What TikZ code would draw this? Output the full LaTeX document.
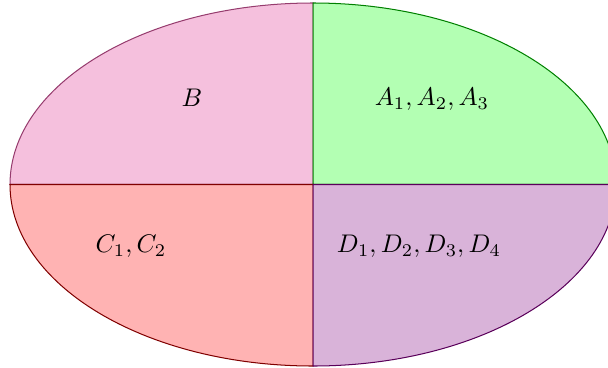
\documentclass[tikz,border=0pt]{standalone}
\usepackage{tikz}
\definecolor{bfill}{RGB}{245,192,221}
\definecolor{bdraw}{RGB}{150,60,110}
\definecolor{afill}{RGB}{179,255,179}
\definecolor{adraw}{RGB}{0,128,0}
\definecolor{cfill}{RGB}{255,179,179}
\definecolor{cdraw}{RGB}{128,0,0}
\definecolor{dfill}{RGB}{217,179,217}
\definecolor{ddraw}{RGB}{90,0,90}
\tikzset{quad/.style={line width=0.4pt}, lbl/.style={inner sep=0pt}}
\begin{document}
\begin{tikzpicture}[x=0.3922pt,y=0.3922pt]
\useasboundingbox (0,0) rectangle (608,367);
\clip (0,0) rectangle (608,367);
\coordinate (c) at (313,182.5);
\path[quad,fill=bfill,draw=bdraw] (c) -- ++(0,181.5) arc[start angle=90,end angle=180,x radius=303,y radius=181.5] -- cycle;
\path[quad,fill=afill,draw=adraw] (c) -- ++(303,0) arc[start angle=0,end angle=90,x radius=303,y radius=181.5] -- cycle;
\path[quad,fill=cfill,draw=cdraw] (c) -- ++(-303,0) arc[start angle=180,end angle=270,x radius=303,y radius=181.5] -- cycle;
\path[quad,fill=dfill,draw=ddraw] (c) -- ++(0,-181.5) arc[start angle=270,end angle=360,x radius=303,y radius=181.5] -- cycle;
\node[lbl] (b) at (192,269) {$B$};
\node[lbl] (a) at (432,268) {$A_1,A_2,A_3$};
\node[lbl] (cc) at (131,121) {$C_1,C_2$};
\node[lbl] (d) at (419,121) {$D_1,D_2,D_3,D_4$};
\end{tikzpicture}
\end{document}
